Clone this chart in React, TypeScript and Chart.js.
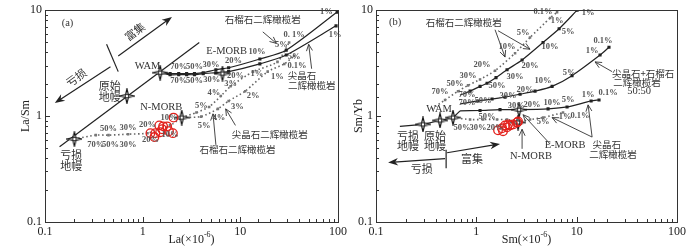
import React, { useEffect, useRef } from "react";
import { Chart, registerables } from "chart.js";

Chart.register(...registerables);

type P = [number, number];
type Lbl = [string, number, number];
type Seg = [P, P];

// ---------------- Panel (a): La vs La/Sm ----------------
const aGarnetSolid: P[] = [
  [1.51, 2.57], [1.91, 2.52], [2.34, 2.52], [2.82, 2.52], [3.39, 2.52], [4.17, 2.57],
  [5.62, 2.74], [7.59, 2.86], [15.85, 3.46], [29.5, 4.19], [98, 9.6],
];
const aSpinelSolid: P[] = [
  [1.51, 2.57], [1.91, 2.46], [2.34, 2.46], [2.82, 2.46], [3.39, 2.46], [4.17, 2.52],
  [5.62, 2.57], [7.59, 2.63], [15.85, 3.11], [29.5, 3.77], [95.5, 7.12],
];
const aDmToNmorb: P[] = [
  [0.2, 0.607], [0.331, 0.661], [0.447, 0.661], [0.708, 0.675], [1.12, 0.69], [1.905, 0.817], [2.51, 0.968],
];
const aGarnetDotted: P[] = [
  [2.51, 0.968], [3.55, 1.08], [4.79, 1.22], [6.31, 1.545], [7.94, 1.91], [13.49, 2.63], [23.99, 3.25], [31.6, 4.96],
];
const aSpinelDotted: P[] = [
  [2.51, 0.968], [3.98, 0.989], [5.89, 1.17], [7.59, 1.39], [11.22, 1.72], [19.05, 2.63], [28.18, 3.11], [35.5, 3.69],
];
const aDiagonal: P[] = [[0.141, 0.513], [3.8, 4.96]];
const aStars: P[] = [[0.2, 0.607], [0.69, 1.545], [1.51, 2.57], [2.51, 0.968], [6.56, 2.52]];
const aSamples: P[] = [
  [1.2, 0.69], [1.35, 0.69], [1.48, 0.817], [1.62, 0.8], [1.78, 0.8], [1.51, 0.705],
  [1.86, 0.72], [2.04, 0.69], [1.32, 0.634], [2.07, 0.968], [1.585, 0.751],
];
const aPct: Lbl[] = [
  ["70%", 2.34, 2.92], ["50%", 3.39, 2.92], ["30%", 5.0, 3.05], ["20%", 8.51, 3.32], ["10%", 14.8, 4.02],
  ["5%", 26.3, 4.76], ["0. 1%", 35.5, 5.88], ["1%", 75.9, 9.6],
  ["70%", 2.34, 2.17], ["50%", 3.39, 2.17], ["30%", 5.1, 2.2], ["20%", 8.91, 2.41], ["5%", 35.5, 3.61],
  ["0.1%", 38, 2.98], ["1%", 93.3, 5.88],
  ["5%", 3.98, 1.25], ["4%", 5.37, 1.65], ["3%", 7.94, 2.04], ["1%", 14.8, 2.52],
  ["5%", 4.27, 0.817], ["4%", 6.03, 0.968], ["3%", 9.33, 1.22], ["2%", 13.5, 1.545], ["1%", 23.99, 2.36],
  ["50%", 0.447, 0.751], ["30%", 0.708, 0.783], ["20%", 1.12, 0.835], ["10%", 1.86, 0.968],
  ["70%", 0.331, 0.535], ["50%", 0.468, 0.535], ["30%", 0.708, 0.535], ["20%", 1.2, 0.594], ["10%", 1.905, 0.661],
];
const aNames: Lbl[] = [["(a)", 0.17, 7.59], ["WAM", 1.12, 2.98], ["E-MORB", 7.24, 4.1], ["N-MORB", 1.55, 1.2]];
const aCjkBig: Lbl[] = [["原始", 0.46, 1.95], ["地幔", 0.46, 1.51], ["亏损", 0.186, 0.432], ["地幔", 0.186, 0.34]];
const aCjk: Lbl[] = [
  ["石榴石二辉橄榄岩", 16.98, 8.27], ["尖晶石", 42.7, 2.41], ["二辉橄榄岩", 53.7, 1.95],
  ["尖晶石二辉橄榄岩", 19.95, 0.675], ["石榴石二辉橄榄岩", 9.33, 0.481],
];
const aRotated: Lbl[] = [["富集", 0.832, 6.27], ["亏损", 0.209, 2.31]];
const aFilled: Seg[] = [[[0.468, 2.92], [0.126, 1.33]], [[0.562, 3.69], [1.995, 8.62]]];
const aOpen: Seg[] = [
  [[16.98, 6.24], [23.4, 4.86]], [[53.7, 2.8], [50.1, 4.76]],
  [[8.91, 0.817], [7.08, 1.17]], [[5.62, 0.535], [5.25, 1.05]],
];
const aPlain: Seg[] = [[[0.427, 4.76], [0.562, 2.63]]];

// ---------------- Panel (b): Sm vs Sm/Yb ----------------
const bGarnetSolid: P[] = [
  [0.688, 1.578], [0.866, 1.72], [1.089, 1.91], [1.279, 2.04], [1.571, 2.31], [2.023, 2.74],
  [2.858, 3.39], [4.624, 4.96], [6.683, 6.68], [10.1, 10.0],
];
const bGarnetDotted: P[] = [
  [0.361, 1.17], [0.488, 1.42], [0.657, 1.72], [0.827, 1.95], [1.089, 2.22], [1.536, 2.68],
  [2.432, 3.93], [3.428, 5.52], [5.433, 8.44], [6.383, 9.59],
];
const bMixSolid: P[] = [
  [0.688, 1.3], [1.04, 1.39], [1.435, 1.45], [1.932, 1.51], [2.729, 1.61], [3.846, 1.72],
  [5.689, 1.91], [8.99, 2.41], [17.1, 3.77], [21.0, 4.47],
];
const bSpinelSolid: P[] = [
  [0.688, 1.12], [1.089, 1.13], [1.722, 1.15], [2.729, 1.15], [5.188, 1.17], [8.02, 1.22], [13.93, 1.39], [16.71, 1.42],
];
const bMantleLine: P[] = [[0.173, 0.8], [0.294, 0.835], [0.435, 0.909], [0.586, 0.968], [0.688, 1.12]];
const bDotted: P[] = [
  [0.586, 0.968], [0.866, 0.928], [1.167, 0.928], [1.608, 0.928], [2.023, 0.928], [2.606, 0.89],
  [3.428, 0.928], [4.624, 0.968], [7.31, 1.08],
];
const bStars: P[] = [[0.294, 0.835], [0.435, 0.909], [0.586, 0.968], [2.667, 1.148], [2.606, 0.87]];
const bSamples: P[] = [
  [1.645, 0.735], [1.803, 0.767], [1.932, 0.817], [2.07, 0.835], [2.168, 0.817],
  [2.323, 0.835], [2.547, 0.871], [1.845, 0.72], [2.023, 0.783], [2.606, 0.89],
];
const bPct: Lbl[] = [
  ["0.1%", 4.62, 9.59], ["1%", 6.38, 7.92], ["5%", 2.92, 6.14], ["10%", 2.02, 4.56], ["20%", 1.14, 3.05],
  ["30%", 0.827, 2.41], ["50%", 0.614, 2.04], ["70%", 0.435, 1.68],
  ["1%", 13.0, 9.38], ["5%", 8.2, 6.24], ["10%", 5.43, 4.47], ["20%", 3.43, 2.98], ["30%", 2.43, 2.36],
  ["50%", 1.61, 1.95], ["70%", 0.808, 1.58],
  ["70%", 0.808, 1.33], ["50%", 1.167, 1.39], ["30%", 2.07, 1.545], ["20%", 3.06, 1.79], ["10%", 4.62, 2.17],
  ["5%", 8.39, 2.57], ["1%", 14.25, 4.1], ["0.1%", 18.3, 5.18],
  ["30%", 2.5, 1.25], ["20%", 3.59, 1.276], ["10%", 5.69, 1.33], ["5%", 8.2, 1.42], ["1%", 13.0, 1.578], ["0.1%", 20.56, 1.65],
  ["50%", 1.279, 0.988], ["50%", 0.72, 0.783], ["30%", 1.04, 0.783], ["20%", 1.536, 0.783],
  ["5%", 4.62, 0.89], ["1%", 7.66, 0.988], ["0.1%", 10.8, 1.01],
];
const bNames: Lbl[] = [
  ["(b)", 0.155, 7.75], ["WAM", 0.425, 1.15], ["E-MORB", 7.66, 0.535], ["N-MORB", 3.5, 0.415], ["50:50", 41.9, 1.72],
];
const bCjkBig: Lbl[] = [
  ["亏损", 0.208, 0.65], ["地幔", 0.208, 0.52], ["原始", 0.387, 0.65], ["地幔", 0.387, 0.52],
  ["富集", 0.906, 0.397], ["亏损", 0.286, 0.321],
];
const bCjk: Lbl[] = [
  ["石榴石二辉橄榄岩", 0.75, 7.75], ["尖晶石", 19.9, 0.535], ["二辉橄榄岩", 23.07, 0.432],
  ["尖晶石+石榴石", 45.9, 2.52], ["二辉橄榄岩", 40.0, 2.08],
];
const bFilled: Seg[] = [[[0.511, 0.451], [1.722, 0.546]], [[0.488, 0.397], [0.132, 0.365]]];
const bOpen: Seg[] = [
  [[1.536, 6.54], [1.932, 3.61]], [[1.645, 6.4], [3.428, 4.28]], [[5.43, 0.546], [2.924, 1.03]],
  [[2.858, 0.491], [2.858, 0.751]], [[14.25, 0.634], [5.689, 0.968]], [[14.25, 0.634], [13.0, 1.276]],
  [[22.54, 2.63], [15.24, 3.25]],
];
const bPlain: Seg[] = [[[0.5, 0.48], [0.5, 0.321]]];

const xTicksShown = [0.1, 1, 10, 100];

// ---------------- drawing helpers ----------------
const SERIF = "'Liberation Serif', 'DejaVu Serif', serif";
const CJK = "'Noto Sans CJK SC', 'Noto Sans CJK JP', sans-serif";

function makeStar(size: number): HTMLCanvasElement {
  const c = document.createElement("canvas");
  c.width = size;
  c.height = size;
  const g = c.getContext("2d")!;
  const m = size / 2;
  const r = size / 2 - 0.8;
  const ri = 2.0;
  g.beginPath();
  for (let i = 0; i < 8; i++) {
    const ang = (i * Math.PI) / 4 - Math.PI / 2;
    const rr = i % 2 === 0 ? r : ri;
    g.lineTo(m + rr * Math.cos(ang), m + rr * Math.sin(ang));
  }
  g.closePath();
  g.fillStyle = "#fff";
  g.fill();
  g.lineWidth = 1.2;
  g.strokeStyle = "#111";
  g.stroke();
  g.beginPath();
  g.arc(m, m, 1.8, 0, Math.PI * 2);
  g.fillStyle = "#fff";
  g.fill();
  g.lineWidth = 0.9;
  g.stroke();
  return c;
}

const isMajor = (v: number) => Math.abs(Math.log10(v) - Math.round(Math.log10(v))) < 1e-6;
const xy = (pts: P[]) => pts.map(([x, y]) => ({ x, y }));

function solidSet(pts: P[]) {
  return {
    data: xy(pts),
    showLine: true,
    borderColor: "#222",
    borderWidth: 1.2,
    tension: 0.25,
    pointStyle: "rect",
    pointRadius: (c: any) => (c.dataIndex === 0 ? 0 : 2.2),
    pointBackgroundColor: "#222",
    pointBorderWidth: 0,
  };
}
function dottedSet(pts: P[]) {
  return {
    data: xy(pts),
    showLine: true,
    borderColor: "#666",
    borderWidth: 1.6,
    borderDash: [1.5, 2.5],
    tension: 0.2,
    pointStyle: "rect",
    pointRadius: (c: any) => (c.dataIndex === 0 ? 0 : 1.8),
    pointBackgroundColor: "#777",
    pointBorderWidth: 0,
  };
}
function plainSet(pts: P[]) {
  return { data: xy(pts), showLine: true, borderColor: "#222", borderWidth: 1.2, pointRadius: 0 };
}
function starSet(pts: P[], star: HTMLCanvasElement) {
  return { data: xy(pts), showLine: false, pointStyle: star, pointRadius: 8 };
}
function sampleSet(pts: P[]) {
  return {
    data: xy(pts),
    showLine: false,
    pointStyle: "circle",
    pointRadius: 4.3,
    borderColor: "#e3211c",
    pointBorderColor: "#e3211c",
    pointBorderWidth: 1.3,
    pointBackgroundColor: "rgba(255,255,255,0)",
  };
}

function drawArrow(ctx: CanvasRenderingContext2D, x1: number, y1: number, x2: number, y2: number, filled: boolean) {
  const a = Math.atan2(y2 - y1, x2 - x1);
  const L = filled ? 10 : 6.5;
  const W = filled ? 3.8 : 3;
  const bx = x2 - L * Math.cos(a);
  const by = y2 - L * Math.sin(a);
  const lx = bx + W * Math.sin(a);
  const ly = by - W * Math.cos(a);
  const rx = bx - W * Math.sin(a);
  const ry = by + W * Math.cos(a);
  ctx.beginPath();
  ctx.moveTo(x1, y1);
  if (filled) ctx.lineTo(x2 - L * 0.6 * Math.cos(a), y2 - L * 0.6 * Math.sin(a));
  else ctx.lineTo(x2, y2);
  ctx.stroke();
  if (filled) {
    ctx.beginPath();
    ctx.moveTo(x2, y2);
    ctx.lineTo(lx, ly);
    ctx.lineTo(x2 - L * 0.7 * Math.cos(a), y2 - L * 0.7 * Math.sin(a));
    ctx.lineTo(rx, ry);
    ctx.closePath();
    ctx.fill();
  } else {
    ctx.beginPath();
    ctx.moveTo(lx, ly);
    ctx.lineTo(x2, y2);
    ctx.lineTo(rx, ry);
    ctx.stroke();
  }
}

interface Overlay {
  pct: Lbl[];
  names: Lbl[];
  cjk: Lbl[];
  cjkBig: Lbl[];
  rotated: Lbl[];
  filled: Seg[];
  open: Seg[];
  plain: Seg[];
  yTitle: string;
  yTitleX: number;
  xMain: string;
}

function overlayPlugin(o: Overlay) {
  return {
    id: "overlay",
    afterDatasetsDraw(chart: any) {
      const ctx: CanvasRenderingContext2D = chart.ctx;
      const xs = chart.scales.x;
      const ys = chart.scales.y;
      const px = (p: P): P => [xs.getPixelForValue(p[0]), ys.getPixelForValue(p[1])];
      ctx.save();
      ctx.strokeStyle = "#222";
      ctx.fillStyle = "#222";
      ctx.lineWidth = 1.2;
      for (const [p1, p2] of o.plain) {
        const [x1, y1] = px(p1);
        const [x2, y2] = px(p2);
        ctx.beginPath();
        ctx.moveTo(x1, y1);
        ctx.lineTo(x2, y2);
        ctx.stroke();
      }
      for (const [p1, p2] of o.filled) {
        const [x1, y1] = px(p1);
        const [x2, y2] = px(p2);
        drawArrow(ctx, x1, y1, x2, y2, true);
      }
      ctx.lineWidth = 0.9;
      ctx.strokeStyle = "#333";
      for (const [p1, p2] of o.open) {
        const [x1, y1] = px(p1);
        const [x2, y2] = px(p2);
        drawArrow(ctx, x1, y1, x2, y2, false);
      }
      ctx.textAlign = "center";
      ctx.textBaseline = "middle";
      ctx.fillStyle = "#555";
      ctx.font = `bold 8.5px ${SERIF}`;
      for (const [t, x, y] of o.pct) {
        const [a, b] = px([x, y]);
        ctx.fillText(t, a, b);
      }
      ctx.fillStyle = "#333";
      ctx.font = `10.5px ${SERIF}`;
      for (const [t, x, y] of o.names) {
        const [a, b] = px([x, y]);
        ctx.fillText(t, a, b);
      }
      ctx.font = `9.5px ${CJK}`;
      for (const [t, x, y] of o.cjk) {
        const [a, b] = px([x, y]);
        ctx.fillText(t, a, b);
      }
      ctx.font = `11px ${CJK}`;
      for (const [t, x, y] of o.cjkBig) {
        const [a, b] = px([x, y]);
        ctx.fillText(t, a, b);
      }
      for (const [t, x, y] of o.rotated) {
        const [a, b] = px([x, y]);
        ctx.save();
        ctx.translate(a, b);
        ctx.rotate((-36 * Math.PI) / 180);
        ctx.fillText(t, 0, 0);
        ctx.restore();
      }
      ctx.restore();
    },
    afterDraw(chart: any) {
      const ctx: CanvasRenderingContext2D = chart.ctx;
      const { left, right, top, bottom } = chart.chartArea;
      const xs = chart.scales.x;
      const ys = chart.scales.y;
      ctx.save();
      ctx.strokeStyle = "#333";
      ctx.lineWidth = 1;
      ctx.strokeRect(Math.round(left) + 0.5, Math.round(top) + 0.5, Math.round(right - left), Math.round(bottom - top));
      ctx.beginPath();
      for (const t of xs.ticks) {
        const x = Math.round(xs.getPixelForValue(t.value)) + 0.5;
        const len = isMajor(t.value) ? 5 : 3;
        ctx.moveTo(x, bottom);
        ctx.lineTo(x, bottom - len);
      }
      for (const t of ys.ticks) {
        const y = Math.round(ys.getPixelForValue(t.value)) + 0.5;
        const len = isMajor(t.value) ? 5 : 3;
        ctx.moveTo(left, y);
        ctx.lineTo(left + len, y);
      }
      ctx.stroke();
      // axis titles
      ctx.fillStyle = "#222";
      ctx.textBaseline = "middle";
      ctx.textAlign = "center";
      ctx.font = `12px ${SERIF}`;
      ctx.save();
      ctx.translate(o.yTitleX, (top + bottom) / 2);
      ctx.rotate(-Math.PI / 2);
      ctx.fillText(o.yTitle, 0, 0);
      ctx.restore();
      const main = o.xMain + "(×10";
      const sup = "-6";
      ctx.font = `12px ${SERIF}`;
      const w1 = ctx.measureText(main).width;
      const w3 = ctx.measureText(")").width;
      ctx.font = `8px ${SERIF}`;
      const w2 = ctx.measureText(sup).width;
      const x0 = (left + right) / 2 - (w1 + w2 + w3) / 2;
      const yT = 240;
      ctx.textAlign = "left";
      ctx.font = `12px ${SERIF}`;
      ctx.fillText(main, x0, yT);
      ctx.font = `8px ${SERIF}`;
      ctx.fillText(sup, x0 + w1, yT - 5);
      ctx.font = `12px ${SERIF}`;
      ctx.fillText(")", x0 + w1 + w2, yT);
      ctx.restore();
    },
  };
}

function buildChart(
  canvas: HTMLCanvasElement,
  datasets: any[],
  overlay: Overlay,
  yWidth: number,
  padRight: number
) {
  const tickCb = (v: any) => {
    const n = Number(v);
    for (const s of xTicksShown) if (Math.abs(n - s) < 1e-9 * Math.max(1, s)) return String(s);
    return "";
  };
  return new Chart(canvas, {
    type: "scatter",
    data: { datasets },
    options: {
      responsive: false,
      animation: false,
      events: [],
      layout: { padding: { left: 0, right: padRight, top: 5, bottom: 0 } },
      plugins: { legend: { display: false }, tooltip: { enabled: false } },
      scales: {
        x: {
          type: "logarithmic",
          min: 0.1,
          max: 100,
          grid: { display: false, drawTicks: false },
          border: { display: false },
          ticks: {
            autoSkip: false,
            maxRotation: 0,
            padding: 3,
            color: "#222",
            font: { family: SERIF, size: 12 },
            callback: tickCb,
          },
          afterFit: (s: any) => {
            s.height = 25;
          },
        },
        y: {
          type: "logarithmic",
          min: 0.1,
          max: 10,
          grid: { display: false, drawTicks: false },
          border: { display: false },
          ticks: {
            autoSkip: false,
            padding: 3,
            color: "#222",
            font: { family: SERIF, size: 12 },
            callback: tickCb,
          },
          afterFit: (s: any) => {
            s.width = yWidth;
          },
        },
      },
    } as any,
    plugins: [overlayPlugin(overlay)],
  });
}

export default function App() {
  const refA = useRef<HTMLCanvasElement>(null);
  const refB = useRef<HTMLCanvasElement>(null);

  useEffect(() => {
    const star = makeStar(16);
    const chartA = buildChart(
      refA.current!,
      [
        sampleSet(aSamples),
        starSet(aStars, star),
        solidSet(aGarnetSolid),
        solidSet(aSpinelSolid),
        plainSet(aDiagonal),
        dottedSet(aDmToNmorb),
        dottedSet(aGarnetDotted),
        dottedSet(aSpinelDotted),
      ],
      {
        pct: aPct,
        names: aNames,
        cjk: aCjk,
        cjkBig: aCjkBig,
        rotated: aRotated,
        filled: aFilled,
        open: aOpen,
        plain: aPlain,
        yTitle: "La/Sm",
        yTitleX: 26,
        xMain: "La",
      },
      45,
      5
    );
    const chartB = buildChart(
      refB.current!,
      [
        sampleSet(bSamples),
        starSet(bStars, star),
        solidSet(bGarnetSolid),
        solidSet(bMixSolid),
        solidSet(bSpinelSolid),
        plainSet(bMantleLine),
        dottedSet(bGarnetDotted),
        dottedSet(bDotted),
      ],
      {
        pct: bPct,
        names: bNames,
        cjk: bCjk,
        cjkBig: bCjkBig,
        rotated: [],
        filled: bFilled,
        open: bOpen,
        plain: bPlain,
        yTitle: "Sm/Yb",
        yTitleX: 9,
        xMain: "Sm",
      },
      26,
      23
    );
    return () => {
      chartA.destroy();
      chartB.destroy();
    };
  }, []);

  return (
    <div
      style={{
        position: "fixed",
        left: 0,
        top: 0,
        width: 700,
        height: 247,
        display: "flex",
        background: "#fff",
      }}
    >
      <canvas ref={refA} width={350} height={247} style={{ display: "block", width: 350, height: 247 }} />
      <canvas ref={refB} width={350} height={247} style={{ display: "block", width: 350, height: 247 }} />
    </div>
  );
}
